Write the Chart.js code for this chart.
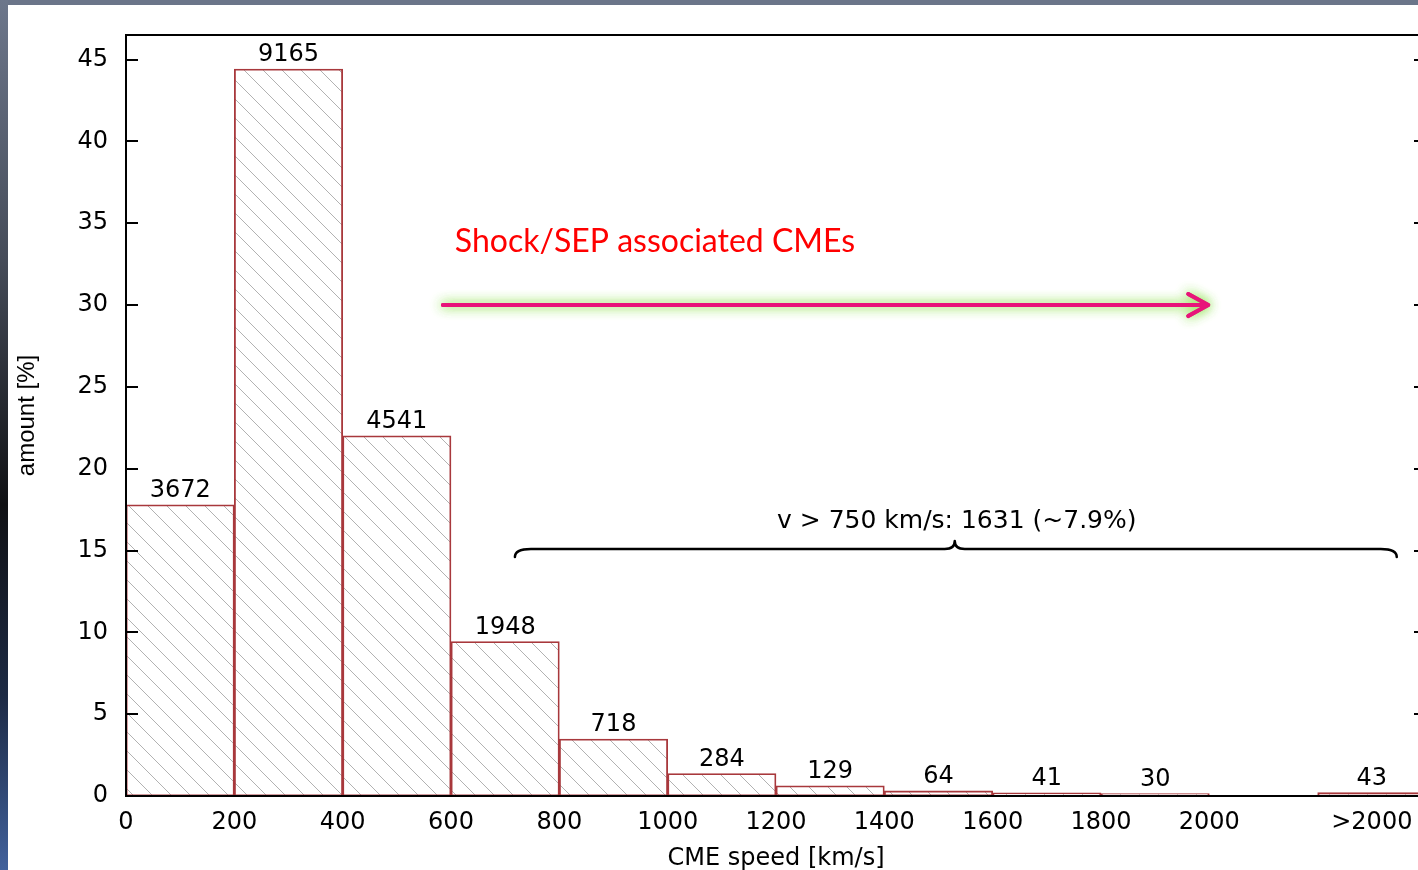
<!DOCTYPE html>
<html>
<head>
<meta charset="utf-8">
<title>CME speed distribution</title>
<script src="https://cdn.jsdelivr.net/npm/chart.js@4.4.1/dist/chart.umd.min.js"></script>
<style>
  html, body { margin: 0; padding: 0; width: 1418px; height: 870px; overflow: hidden; background: #fff; }
  .top-strip { position: absolute; left: 0; top: 0; width: 1418px; height: 5px; background: #6b7589; }
  .left-strip { position: absolute; left: 0; top: 0; width: 8px; height: 870px;
    background: linear-gradient(to bottom, #6d778b 0%, #454b58 30%, #101114 58%, #1d2a44 80%, #41619c 100%); }
  #wrap { position: absolute; left: 8px; top: 5px; width: 1428px; height: 865px; }
</style>
</head>
<body>
<div class="top-strip"></div>
<div class="left-strip"></div>
<div id="wrap"><canvas id="chart" width="1428" height="865"></canvas></div>
<script>
// speed bins (lower edge, km/s) and number of CMEs in each bin
const binLow = [0, 200, 400, 600, 800, 1000, 1200, 1400, 1600, 1800, 2200];
const binWidth = 200;
const counts = [3672, 9165, 4541, 1948, 718, 284, 129, 64, 41, 30, 43];

const xTickValues = [0, 200, 400, 600, 800, 1000, 1200, 1400, 1600, 1800, 2000, 2300];
const xTickLabels = ['0', '200', '400', '600', '800', '1000', '1200', '1400', '1600', '1800', '2000', '>2000'];
const yTickValues = [0, 5, 10, 15, 20, 25, 30, 35, 40, 45];

const total = counts.reduce((a, b) => a + b, 0);
const amount = counts.map(c => c / total * 100);

// annotations
const shockText = 'Shock/SEP associated CMEs';
const braceText = 'v > 750 km/s: 1631 (~7.9%)';

const SANS = '"DejaVu Sans", "Liberation Sans", sans-serif';
Chart.defaults.color = '#000';
Chart.defaults.font.family = SANS;

function hatchPattern() {
    const s = 19;
    const c = document.createElement('canvas');
    c.width = s; c.height = s;
    const g = c.getContext('2d');
    g.fillStyle = '#fff';
    g.fillRect(0, 0, s, s);
    g.strokeStyle = '#b2b2b2';
    g.lineWidth = 1;
    g.beginPath();
    for (const k of [-1, 0, 1]) {
        g.moveTo(0, k * s);
        g.lineTo(s, s + k * s);
    }
    g.stroke();
    return g.createPattern(c, 'repeat');
}

const framePlugin = {
    id: 'frame',
    afterDatasetsDraw(chart) {
        const { ctx, chartArea: a, scales } = chart;
        const y = scales.y;
        ctx.save();
        ctx.strokeStyle = '#000';
        ctx.lineWidth = 2;
        ctx.strokeRect(a.left, a.top, a.right - a.left, a.bottom - a.top);
        ctx.beginPath();
        yTickValues.forEach(v => {
            const py = Math.round(y.getPixelForValue(v));
            ctx.moveTo(a.left, py); ctx.lineTo(a.left + 12, py);
            ctx.moveTo(a.right, py); ctx.lineTo(a.right - 12, py);
        });
        ctx.stroke();

        // count labels over each bar
        ctx.font = '24px ' + SANS;
        ctx.fillStyle = '#000';
        ctx.textAlign = 'center';
        ctx.textBaseline = 'middle';
        chart.getDatasetMeta(0).data.forEach((bar, i) => {
            ctx.fillText(String(counts[i]), bar.x, bar.y - 14);
        });
        ctx.restore();
    }
};

const notesPlugin = {
    id: 'notes',
    afterDraw(chart) {
        const { ctx, scales: { x, y } } = chart;
        ctx.save();

        // red caption
        ctx.font = '32px Lato, "Open Sans", sans-serif';
        ctx.fillStyle = '#ff0000';
        ctx.textAlign = 'left';
        ctx.textBaseline = 'middle';
        ctx.fillText(shockText, x.getPixelForValue(607), y.getPixelForValue(33.85));

        // glowing arrow
        const ax0 = x.getPixelForValue(585), ax1 = x.getPixelForValue(1998), ay = y.getPixelForValue(30);
        ctx.strokeStyle = '#e8147a';
        ctx.lineWidth = 4;
        ctx.lineCap = 'round';
        ctx.lineJoin = 'round';
        ctx.shadowColor = 'rgba(150, 228, 90, 0.9)';
        ctx.shadowBlur = 12;
        for (let k = 0; k < 2; k++) {
            ctx.beginPath();
            ctx.moveTo(ax0, ay); ctx.lineTo(ax1, ay);
            ctx.moveTo(ax1 - 20, ay - 11); ctx.lineTo(ax1, ay); ctx.lineTo(ax1 - 20, ay + 11);
            ctx.stroke();
        }
        ctx.shadowBlur = 0;
        ctx.shadowColor = 'transparent';

        // brace over the fast CMEs
        const bx0 = x.getPixelForValue(718), bx1 = x.getPixelForValue(2346), bm = x.getPixelForValue(1530);
        const by = y.getPixelForValue(15.1);
        ctx.strokeStyle = '#000';
        ctx.lineWidth = 2.5;
        ctx.beginPath();
        ctx.moveTo(bx0, by + 8);
        ctx.quadraticCurveTo(bx0, by, bx0 + 16, by);
        ctx.lineTo(bm - 10, by);
        ctx.quadraticCurveTo(bm, by, bm, by - 8);
        ctx.quadraticCurveTo(bm, by, bm + 10, by);
        ctx.lineTo(bx1 - 16, by);
        ctx.quadraticCurveTo(bx1, by, bx1, by + 8);
        ctx.stroke();

        ctx.font = '25px ' + SANS;
        ctx.fillStyle = '#000';
        ctx.textAlign = 'center';
        ctx.fillText(braceText, bm + 2, y.getPixelForValue(16.8));
        ctx.restore();
    }
};

new Chart(document.getElementById('chart'), {
    type: 'bar',
    data: {
        datasets: [{
            data: binLow.map((lo, i) => ({ x: lo + binWidth / 2, y: amount[i] })),
            backgroundColor: hatchPattern(),
            borderColor: '#a8383c',
            borderWidth: 1.8,
            borderSkipped: false,
            barPercentage: 1,
            categoryPercentage: 1
        }]
    },
    options: {
        responsive: false,
        animation: false,
        devicePixelRatio: 1,
        layout: { padding: { top: 30, right: 10, left: 0, bottom: 0 } },
        plugins: { legend: { display: false }, tooltip: { enabled: false } },
        scales: {
            x: {
                type: 'linear',
                offset: false,
                min: 0,
                max: 2400,
                afterBuildTicks: s => { s.ticks = xTickValues.map(v => ({ value: v })); },
                afterFit: s => { s.height = 74; s.paddingLeft = 0; s.paddingRight = 0; },
                ticks: {
                    autoSkip: false,
                    maxRotation: 0,
                    padding: 12,
                    font: { size: 24 },
                    callback: (v, i) => xTickLabels[i]
                },
                grid: { display: false, drawTicks: false },
                border: { display: false },
                title: { display: true, text: 'CME speed [km/s]', font: { size: 24 }, padding: { top: 0, bottom: -3 } }
            },
            y: {
                min: 0,
                max: 46.5,
                afterBuildTicks: s => { s.ticks = yTickValues.map(v => ({ value: v })); },
                afterFit: s => { s.width = 118; s.paddingTop = 0; s.paddingBottom = 0; },
                ticks: { padding: 18, font: { size: 24 } },
                grid: { display: false, drawTicks: false },
                border: { display: false },
                title: {
                    display: true, text: 'amount [%]',
                    font: { size: 24, family: '"Liberation Sans", Arial, sans-serif' },
                    padding: { top: 5, bottom: 0 }
                }
            }
        }
    },
    plugins: [framePlugin, notesPlugin]
});
</script>
</body>
</html>
